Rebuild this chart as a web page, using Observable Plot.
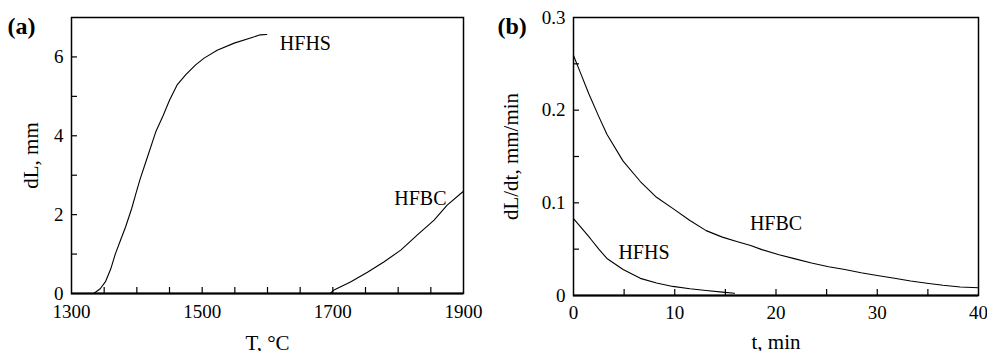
<!DOCTYPE html>
<html>
<head>
<meta charset="utf-8">
<script src="https://cdn.jsdelivr.net/npm/d3@7"></script>
<script src="https://cdn.jsdelivr.net/npm/@observablehq/plot@0.6"></script>
<style>
  html, body { margin: 0; padding: 0; background: #fff; }
  #wrap { position: relative; width: 987px; height: 351px; overflow: hidden; background: #fff; }
  #wrap svg { position: absolute; top: 0; overflow: visible; }
</style>
</head>
<body>
<div id="wrap"></div>
<script>
// ---- Panel (a): dL vs T ----
const hfhsT  = [1334, 1344, 1352, 1360, 1367, 1375, 1383, 1392, 1398, 1405, 1416, 1429, 1440, 1450, 1462, 1475, 1490, 1503, 1523, 1549, 1574, 1589, 1599];
const hfhsDL = [0, 0.12, 0.3, 0.62, 1.0, 1.35, 1.7, 2.15, 2.5, 2.9, 3.45, 4.1, 4.5, 4.9, 5.3, 5.55, 5.8, 5.97, 6.17, 6.35, 6.48, 6.56, 6.57];
const hfbcT  = [1696, 1701, 1727, 1753, 1778, 1804, 1829, 1855, 1875, 1899];
const hfbcDL = [0, 0.08, 0.29, 0.54, 0.8, 1.1, 1.48, 1.86, 2.24, 2.58];

// ---- Panel (b): dL/dt vs t ----
const hfbcTime = [0, 0.7, 1.5, 2.5, 3.3, 4.9, 6.6, 8.2, 9.8, 11.5, 13.1, 14.7, 16.2, 17.5, 18.6, 20.3, 21.9, 23.5, 25.2, 26.8, 28.4, 30.0, 31.7, 33.3, 34.9, 36.5, 38.2, 40];
const hfbcRate = [0.259, 0.240, 0.218, 0.193, 0.174, 0.145, 0.123, 0.106, 0.094, 0.081, 0.070, 0.063, 0.058, 0.054, 0.0495, 0.044, 0.0395, 0.035, 0.031, 0.028, 0.0245, 0.0216, 0.0187, 0.0157, 0.0133, 0.011, 0.0092, 0.0083];
const hfhsTime = [0, 0.7, 1.7, 2.5, 3.3, 4.9, 6.6, 8.2, 9.8, 11.5, 13.1, 14.7, 15.9];
const hfhsRate = [0.083, 0.074, 0.061, 0.050, 0.040, 0.028, 0.0185, 0.0135, 0.0098, 0.0073, 0.0054, 0.0036, 0.0025];

// ticks
const aXLabels = [1300, 1500, 1700, 1900];
const aXMinor  = [1350, 1400, 1450, 1500, 1550, 1600, 1650, 1700, 1750, 1800, 1850];
const aYLabels = [0, 2, 4, 6];
const aYMinor  = [1, 2, 3, 4, 5, 6];
const bXLabels = [0, 10, 20, 30, 40];
const bXMinor  = [5, 10, 15, 20, 25, 30, 35];
const bYLabels = [0, 0.1, 0.2, 0.3];
const bYMinor  = [0.05, 0.1, 0.15, 0.2, 0.25];

// curve labels (centre of each label, in data units)
const aNotes = [{name: "HFHS", x: 1658, y: 6.35}, {name: "HFBC", x: 1834, y: 2.41}];
const bNotes = [{name: "HFHS", x: 6.96, y: 0.0464}, {name: "HFBC", x: 20.0, y: 0.078}];

const zipXY = (xs, ys) => xs.map((x, i) => ({x, y: ys[i]}));
const FONT = "'Liberation Serif', 'Times New Roman', serif";
const TICK = 6;

function panel({width, mL, mR, mT, mB, xDom, yDom, xLab, yLab, xMin, yMin, series, notes, xTitle, yTitle, xTitleDy, yTitleDx, tag, tagDx, xPad, yPad}) {
  const H = 351;
  const innerH = H - mT - mB, innerW = width - mL - mR;
  return Plot.plot({
    width, height: H,
    marginLeft: mL, marginRight: mR, marginTop: mT, marginBottom: mB,
    style: {fontFamily: FONT, fontSize: "19px", color: "#000", background: "transparent", overflow: "visible"},
    x: {domain: xDom, ticks: xLab, tickSize: 0, tickPadding: xPad, tickFormat: d => String(d), label: null},
    y: {domain: yDom, ticks: yLab, tickSize: 0, tickPadding: yPad, tickFormat: d => String(d), label: null},
    marks: [
      Plot.tickX(xMin, {x: d => d, stroke: "#000", strokeWidth: 1.2, insetTop: innerH - TICK}),
      Plot.tickY(yMin, {y: d => d, stroke: "#000", strokeWidth: 1.2, insetRight: innerW - TICK}),
      ...series.map(s => Plot.line(s, {x: "x", y: "y", stroke: "#000", strokeWidth: 1.1, curve: "linear"})),
      Plot.frame({stroke: "#000", strokeWidth: 1.5}),
      Plot.ruleY([yDom[0]], {stroke: "#000", strokeWidth: 2}),
      Plot.text(notes, {x: "x", y: "y", text: "name", textAnchor: "middle", fontSize: 20, lineAnchor: "middle", fill: "#000"}),
      Plot.text([xTitle], {frameAnchor: "bottom", text: d => d, dy: xTitleDy, fontSize: 21, textAnchor: "middle", lineAnchor: "middle", fill: "#000"}),
      Plot.text([yTitle], {frameAnchor: "left", text: d => d, dx: yTitleDx, rotate: -90, fontSize: 21, textAnchor: "middle", lineAnchor: "middle", fill: "#000"}),
      Plot.text([tag], {frameAnchor: "top-left", text: d => d, dx: tagDx, dy: 9, fontSize: 24, fontWeight: "bold", textAnchor: "start", lineAnchor: "middle", fill: "#000"})
    ]
  });
}

const a = panel({
  width: 490, mL: 71, mR: 27, mT: 17, mB: 58,
  xDom: [1300, 1900], yDom: [0, 7], xLab: aXLabels, yLab: aYLabels, xMin: aXMinor, yMin: aYMinor,
  series: [zipXY(hfhsT, hfhsDL), zipXY(hfbcT, hfbcDL)], notes: aNotes,
  xTitle: "T, °C", yTitle: "dL, mm", xTitleDy: 50, yTitleDx: -40, tag: "(a)", tagDx: -64, xPad: 11, yPad: 8
});
const b = panel({
  width: 497, mL: 83, mR: 9, mT: 17, mB: 56,
  xDom: [0, 40], yDom: [0, 0.3], xLab: bXLabels, yLab: bYLabels, xMin: bXMinor, yMin: bYMinor,
  series: [zipXY(hfbcTime, hfbcRate), zipXY(hfhsTime, hfhsRate)], notes: bNotes,
  xTitle: "t, min", yTitle: "dL/dt, mm/min", xTitleDy: 47, yTitleDx: -62, tag: "(b)", tagDx: -76, xPad: 10, yPad: 8
});
a.style.left = "0px";
b.style.left = "490px";
const wrap = document.getElementById("wrap");
wrap.appendChild(a);
wrap.appendChild(b);
</script>
</body>
</html>
